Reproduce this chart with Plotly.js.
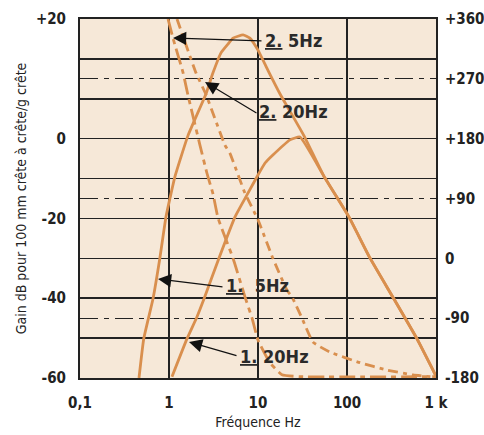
<!DOCTYPE html>
<html>
<head>
<meta charset="utf-8">
<script src="https://cdn.plot.ly/plotly-3.0.1.min.js"></script>
<style>html,body{margin:0;padding:0;background:#fff;}#chart{width:484px;height:435px;}</style>
</head>
<body>
<div id="chart"></div>
<script>
// ---- Data ----
// Gain curves (left axis, dB) vs frequency (Hz)
const gain5Freq = [0.46, 0.52, 0.66, 0.79, 0.925, 1.05, 1.17, 1.63, 2.6, 3.12, 3.84, 4.6, 5.24, 6.8, 8.1, 10, 12.9, 17.7, 32.9, 55, 105, 181, 337, 612, 1000];
const gain5Db   = [-60, -50.2, -40.2, -29.9, -19.6, -13.9, -9.4, 0.7, 11.2, 16.5, 21.5, 23.7, 25.2, 26.0, 25.2, 22.2, 17.2, 11.2, 0.7, -9.4, -19.6, -29.9, -40.2, -50.2, -59.5];

const gain20Freq = [1.08, 1.59, 2.06, 2.47, 3.65, 5.52, 7.52, 10, 12.0, 14.7, 22.9, 29.6, 55, 105, 181, 337, 612, 1000];
const gain20Db   = [-59.7, -50.2, -44.7, -40.2, -29.9, -19.6, -14.1, -9.1, -6.1, -4.1, -0.3, 0.4, -9.4, -19.6, -29.9, -40.2, -50.2, -59.5];

// Phase curves (right axis, degrees) vs frequency (Hz)
const phase5Freq = [0.975, 1.11, 1.44, 1.63, 2.23, 2.67, 3.12, 3.55, 5.24, 7.14, 8.57, 10, 13.6, 18.6, 29.6, 1000];
const phase5Deg  = [360, 331, 279, 246, 170, 128, 97, 61, 0, -58, -90, -123, -157, -175, -178, -178];

const phase20Freq = [1.23, 2.01, 2.61, 4.26, 4.84, 7.14, 10, 14.7, 21.2, 24.1, 31.2, 41.5, 64.4, 140, 281, 552, 975];
const phase20Deg  = [360, 279, 246, 170, 158, 98, 58, 0, -48, -58, -90, -126, -141, -157, -168, -175.5, -178.5];

// Tick labels
const xTickVals = [0.1, 1, 10, 100, 1000];
const xTickText = ["0,1", "1", "10", "100", "1 k"];
const yLeftTickVals = [30, 0, -20, -40, -60];
const yLeftTickText = ["+20", "0", "-20", "-40", "-60"];
const yRightTickVals = [360, 270, 180, 90, 0, -90, -180];
const yRightTickText = ["+360", "+270", "+180", "+90", "0", "-90", "-180"];

// ---- Styling ----
const curveColor = "#D98F4E";
const fontFam = "'DejaVu Sans Condensed', 'Liberation Sans Narrow', sans-serif";
const tickFont = {family: fontFam, size: 15, color: "#222", weight: "bold"};

const traces = [
  {x: gain5Freq, y: gain5Db, yaxis: "y", mode: "lines", line: {color: curveColor, width: 2.8, shape: "spline", smoothing: 0.4}, hoverinfo: "skip"},
  {x: gain20Freq, y: gain20Db, yaxis: "y", mode: "lines", line: {color: curveColor, width: 2.8, shape: "spline", smoothing: 0.4}, hoverinfo: "skip"},
  {x: phase5Freq, y: phase5Deg, yaxis: "y2", mode: "lines", line: {color: curveColor, width: 2.8, dash: "16px,5px,5px,5px", shape: "spline", smoothing: 0.4}, hoverinfo: "skip"},
  {x: phase20Freq, y: phase20Deg, yaxis: "y2", mode: "lines", line: {color: curveColor, width: 2.8, dash: "10px,5px,4px,5px", shape: "spline", smoothing: 0.4}, hoverinfo: "skip"}
];

// pixel -> paper helper for annotation placement
const L = 80, R = 436, T = 19, B = 378;
const px = p => (p - L) / (R - L);
const py = p => (B - p) / (B - T);

function arrow(tipX, tipY, tailX, tailY) {
  return {xref: "paper", yref: "paper", x: px(tipX), y: py(tipY), ax: tailX - tipX, ay: tailY - tipY,
          text: "", showarrow: true, arrowhead: 2, arrowsize: 2.2, arrowwidth: 1.2, arrowcolor: "#111", standoff: 0, startstandoff: 0};
}
function label(text, leftX, centerY) {
  return {xref: "paper", yref: "paper", x: px(leftX), y: py(centerY), xanchor: "left", yanchor: "middle",
          text: text, showarrow: false, font: {family: fontFam, size: 18, color: "#2a2a2a", weight: "bold"}};
}

const annotations = [
  arrow(173, 38, 263, 41), label("<u>2.</u> 5Hz", 263, 41),
  arrow(205, 82, 258, 114), label("<u>2.</u> 20Hz", 257, 112),
  arrow(158, 279, 224, 287), label("<u>1.</u>  5Hz", 224, 285),
  arrow(189, 342, 238, 356), label("<u>1.</u> 20Hz", 238, 356)
];

const layout = {
  width: 484, height: 435,
  margin: {l: L, r: 484 - R, t: T, b: 435 - B},
  paper_bgcolor: "#ffffff",
  plot_bgcolor: "#F6E8D8",
  showlegend: false,
  xaxis: {
    type: "log", range: [-1, 3], tickvals: xTickVals, ticktext: xTickText,
    showgrid: true, gridcolor: "#222", gridwidth: 1.6,
    showline: true, linecolor: "#222", linewidth: 2, mirror: true,
    ticks: "", zeroline: false, tickfont: tickFont, ticklabelstandoff: 10,
    title: {text: "Fréquence Hz", font: {family: fontFam, size: 14, color: "#222"}, standoff: 6},
    fixedrange: true
  },
  yaxis: {
    range: [-60, 30], tickvals: yLeftTickVals, ticktext: yLeftTickText,
    showgrid: true, gridcolor: "#222", gridwidth: 1.6,
    minor: {dtick: 10, tick0: 0, showgrid: true, gridcolor: "#222", gridwidth: 1.6, ticks: ""},
    showline: true, linecolor: "#222", linewidth: 2, mirror: true,
    ticks: "", zeroline: false, tickfont: tickFont, ticklabelstandoff: 9,
    title: {text: "Gain dB pour 100 mm crête à crête/g crête", font: {family: fontFam, size: 14, color: "#222"}, standoff: 6},
    fixedrange: true
  },
  yaxis2: {
    overlaying: "y", side: "right", range: [-180, 360],
    tickvals: yRightTickVals, ticktext: yRightTickText,
    showgrid: true, gridcolor: "#222", gridwidth: 1.3, griddash: "18px,6px,5px,6px",
    showline: false, ticks: "", zeroline: false, tickfont: tickFont, ticklabelstandoff: 8,
    fixedrange: true
  },
  annotations: annotations
};

Plotly.newPlot("chart", traces, layout, {staticPlot: true, displayModeBar: false});
</script>
</body>
</html>
